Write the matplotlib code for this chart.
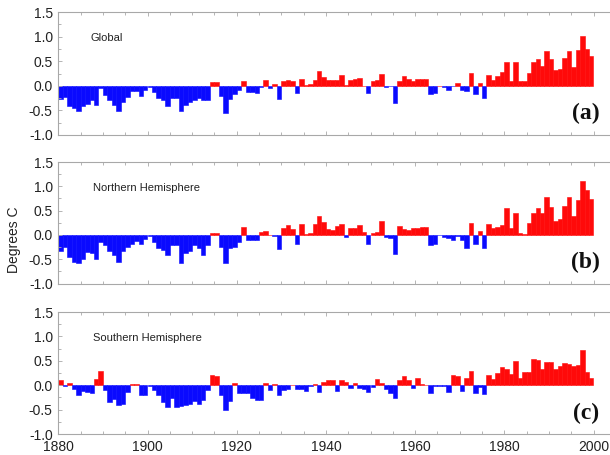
import numpy as np
import matplotlib
matplotlib.use("Agg")
import matplotlib.pyplot as plt
from matplotlib.ticker import MultipleLocator

plt.rcParams['font.family'] = ['Liberation Sans', 'DejaVu Sans']

years = list(range(1880, 2000))

global_anom = [
    -0.27, -0.22, -0.41, -0.45, -0.52, -0.42, -0.37, -0.29, -0.39, -0.05,
    -0.18, -0.29, -0.39, -0.52, -0.32, -0.22, -0.10, -0.10, -0.20, -0.08,
    -0.03, -0.12, -0.25, -0.29, -0.42, -0.25, -0.25, -0.52, -0.39, -0.32,
    -0.29, -0.25, -0.29, -0.29, 0.07, 0.07, -0.20, -0.56, -0.27, -0.16,
    -0.08, 0.09, -0.12, -0.12, -0.14, -0.03, 0.11, -0.05, 0.03, -0.27,
    0.09, 0.12, 0.10, -0.15, 0.14, 0.01, 0.03, 0.12, 0.30, 0.18,
    0.12, 0.11, 0.12, 0.21, 0.02, 0.11, 0.14, 0.15, 0.00, -0.15,
    0.09, 0.12, 0.24, -0.03, -0.01, -0.34, 0.09, 0.19, 0.14, 0.09,
    0.14, 0.14, 0.14, -0.16, -0.14, 0.00, -0.03, -0.08, -0.01, 0.05,
    -0.08, -0.10, 0.27, -0.16, 0.05, -0.25, 0.22, 0.12, 0.19, 0.29,
    0.48, 0.09, 0.48, 0.10, 0.10, 0.27, 0.48, 0.54, 0.41, 0.70,
    0.54, 0.33, 0.34, 0.56, 0.70, 0.39, 0.73, 1.02, 0.75, 0.60,
]

north_anom = [
    -0.34, -0.24, -0.45, -0.55, -0.58, -0.50, -0.36, -0.38, -0.49, -0.14,
    -0.20, -0.33, -0.41, -0.56, -0.34, -0.24, -0.19, -0.12, -0.19, -0.08,
    -0.02, -0.15, -0.27, -0.31, -0.41, -0.20, -0.20, -0.58, -0.38, -0.33,
    -0.20, -0.27, -0.41, -0.20, 0.03, 0.03, -0.24, -0.58, -0.27, -0.24,
    -0.14, 0.17, -0.10, -0.10, -0.10, 0.05, 0.08, 0.00, -0.02, -0.29,
    0.15, 0.20, 0.12, -0.19, 0.22, 0.01, 0.03, 0.22, 0.38, 0.26,
    0.12, 0.10, 0.19, 0.23, -0.05, 0.14, 0.14, 0.21, 0.05, -0.18,
    0.03, 0.05, 0.29, -0.05, -0.07, -0.39, 0.18, 0.12, 0.10, 0.14,
    0.15, 0.16, 0.17, -0.20, -0.19, -0.01, -0.04, -0.07, -0.10, -0.02,
    -0.10, -0.26, 0.24, -0.19, 0.08, -0.27, 0.22, 0.15, 0.17, 0.21,
    0.56, 0.15, 0.45, 0.03, 0.01, 0.24, 0.45, 0.56, 0.45, 0.79,
    0.58, 0.29, 0.33, 0.60, 0.79, 0.38, 0.72, 1.11, 0.92, 0.74,
]

south_anom = [
    0.10, -0.02, 0.05, -0.07, -0.20, -0.12, -0.14, -0.17, 0.12, 0.29,
    -0.10, -0.34, -0.28, -0.40, -0.38, -0.14, 0.02, 0.02, -0.20, -0.20,
    -0.01, -0.10, -0.20, -0.34, -0.45, -0.27, -0.45, -0.43, -0.41, -0.38,
    -0.33, -0.38, -0.30, -0.10, 0.20, 0.18, -0.20, -0.50, -0.33, 0.05,
    -0.17, -0.17, -0.17, -0.26, -0.31, -0.31, 0.05, -0.10, 0.03, -0.20,
    -0.10, -0.08, 0.01, -0.07, -0.07, -0.12, -0.01, 0.03, -0.14, 0.07,
    0.10, 0.10, -0.12, 0.10, 0.07, -0.05, 0.05, -0.05, -0.08, -0.14,
    -0.03, 0.12, 0.05, -0.07, -0.17, -0.27, 0.10, 0.19, 0.10, -0.05,
    0.14, 0.03, 0.01, -0.17, -0.02, -0.01, -0.01, -0.14, 0.20, 0.18,
    -0.12, 0.15, 0.30, -0.17, -0.03, -0.18, 0.20, 0.12, 0.24, 0.37,
    0.33, 0.23, 0.50, 0.15, 0.27, 0.27, 0.53, 0.51, 0.33, 0.48,
    0.48, 0.33, 0.40, 0.46, 0.43, 0.39, 0.41, 0.72, 0.27, 0.14,
]

panel_titles = ["Global", "Northern Hemisphere", "Southern Hemisphere"]
panel_tags = ["(a)", "(b)", "(c)"]
series = [global_anom, north_anom, south_anom]
y_ticks = [-1.0, -0.5, 0.0, 0.5, 1.0, 1.5]
x_ticks = [1880, 1900, 1920, 1940, 1960, 1980, 2000]

W, H = 610, 455
fig = plt.figure(figsize=(W / 100, H / 100), dpi=100)

# (top_px, bottom_px) for each panel
panel_px = [(12, 135), (162, 283.5), (312, 434)]
left_px = 58.3

spine_col = '#a8a8a8'
for i, (vals, (tp, bp)) in enumerate(zip(series, panel_px)):
    ax = fig.add_axes([left_px / W, 1 - bp / H, 1 - left_px / W, (bp - tp) / H])
    vals = np.array(vals)
    cols = np.where(vals >= 0, '#ff0a0a', '#0a0aff')
    ax.bar(years, vals, width=1.0, align='edge', color=cols, edgecolor=cols,
           linewidth=0.4)
    ax.set_xlim(1880, 1880 + (W - left_px) / 4.46)
    ax.set_ylim(-1.0, 1.5)
    ax.set_yticks(y_ticks)
    ax.set_yticklabels([f"{v:.1f}" for v in y_ticks])
    ax.yaxis.set_minor_locator(MultipleLocator(0.25))
    ax.set_xticks(x_ticks)
    ax.xaxis.set_minor_locator(MultipleLocator(5))
    if i < 2:
        ax.set_xticklabels([])
    for s in ['top', 'bottom', 'left']:
        ax.spines[s].set_color(spine_col)
        ax.spines[s].set_linewidth(0.8)
    ax.spines['right'].set_visible(False)
    ax.tick_params(which='both', direction='in', color=spine_col, top=True,
                   right=False, labelcolor='#222222', labelsize=10, width=0.6)
    ax.tick_params(which='major', length=3, pad=4)
    ax.tick_params(which='minor', length=2)
    ax.text(1887.2 + 0.5 * (i > 0), 0.97, panel_titles[i], fontsize=8,
            va='center', ha='left', color='#222222')
    ax.text(1998.3, -0.57, panel_tags[i], fontsize=17, fontweight='bold',
            family=['Liberation Serif', 'DejaVu Serif'], ha='center', va='center',
            color='#111111')

fig.text(14 / W, 1 - 240 / H, "Degrees C", rotation=90, fontsize=10,
         ha='center', va='center', color='#222222')

fig.savefig("out.png", dpi=100)
